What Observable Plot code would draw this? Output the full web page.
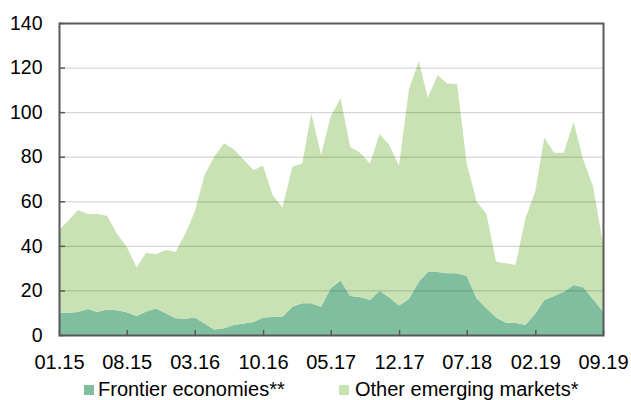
<!DOCTYPE html>
<html>
<head>
<meta charset="utf-8">
<script src="https://cdn.jsdelivr.net/npm/d3@7"></script>
<script src="https://cdn.jsdelivr.net/npm/@observablehq/plot@0.6"></script>
<style>
  html, body { margin: 0; padding: 0; background: #fff; }
  #wrap { width: 631px; font-family: "Liberation Sans", Arial, sans-serif; }
  #legend { position: relative; width: 631px; height: 28px; font-size: 20px; color: #000; }
  .sw { position: absolute; width: 10px; height: 10px; top: 13px; }
  .lt { position: absolute; top: 7px; line-height: 20px; white-space: nowrap; }
</style>
</head>
<body>
<div id="wrap"></div>
<script>
const months = ["2015-01","2015-02","2015-03","2015-04","2015-05","2015-06","2015-07","2015-08","2015-09","2015-10","2015-11","2015-12",
  "2016-01","2016-02","2016-03","2016-04","2016-05","2016-06","2016-07","2016-08","2016-09","2016-10","2016-11","2016-12",
  "2017-01","2017-02","2017-03","2017-04","2017-05","2017-06","2017-07","2017-08","2017-09","2017-10","2017-11","2017-12",
  "2018-01","2018-02","2018-03","2018-04","2018-05","2018-06","2018-07","2018-08","2018-09","2018-10","2018-11","2018-12",
  "2019-01","2019-02","2019-03","2019-04","2019-05","2019-06","2019-07","2019-08","2019-09"];
const seriesNames = ["Frontier economies**", "Other emerging markets*"];
const seriesColors = ["#80bea0", "#c9e2b3"];
const frontier = [10,10,10.3,11.7,10.3,11.4,11.1,10.2,8.5,10.5,11.9,9.8,7.5,7.3,7.8,5.2,2.5,3,4.5,5.2,5.8,7.9,8.1,8.2,12.7,14.3,14.2,12.7,21,24.4,17.5,17.1,15.7,19.9,16.8,13.2,16.2,23.9,28.3,28.3,27.7,27.7,26.5,16.5,12,7.9,5.5,5.5,4.5,9.7,15.7,17.5,19.4,22.4,21.4,16,10.5];
const other = [37.1,41.6,45.8,42.6,44,42,34.5,29.4,21.9,26.4,24.3,28.3,29.7,38.3,47.5,66.6,77.5,83,78.8,73.6,68.2,68.1,54.4,49.1,62.8,62.7,85.3,68.1,77,81.8,67,64.7,61.3,70.3,68.4,62.8,94,99,78.2,88.2,85.2,84.9,50.5,43.5,42.3,25,26.7,25.9,47.8,54.8,72.8,64.3,62.4,73.2,57.4,50.5,30.5];
const xTickMonths = ["2015-01","2015-08","2016-03","2016-10","2017-05","2017-12","2018-07","2019-02","2019-09"];
const yTicks = [0,20,40,60,80,100,120,140];

const toDate = (m) => new Date(m + "-01T00:00:00Z");
const data = months.flatMap((m, i) => [
  {date: toDate(m), series: seriesNames[0], value: frontier[i]},
  {date: toDate(m), series: seriesNames[1], value: other[i]}
]);
const xTicks = xTickMonths.map(toDate);
const fmt = d3.utcFormat("%m.%y");

const chart = Plot.plot({
  width: 631,
  height: 372,
  marginLeft: 59,
  marginRight: 28,
  marginTop: 23,
  marginBottom: 37,
  style: {fontFamily: "'Liberation Sans', Arial, sans-serif", fontSize: "19.5px", color: "#000", background: "#fff"},
  x: {type: "utc", domain: [toDate(months[0]), toDate(months[months.length - 1])]},
  y: {domain: [0, 140]},
  color: {domain: seriesNames, range: seriesColors},
  marks: [
    Plot.areaY(data, {x: "date", y: "value", fill: "series", order: seriesNames}),
    Plot.gridY(yTicks, {stroke: "#000", strokeOpacity: 0.16, strokeWidth: 1.2}),
    Plot.axisY(yTicks, {tickSize: 0, tickPadding: 17, fill: "#000", fontSize: 19.5, label: null}),
    Plot.axisY(yTicks, {tickSize: -6, text: null, stroke: "#595959", strokeWidth: 1.5, label: null}),
    Plot.axisX(xTicks, {tickSize: 0, tickPadding: 19, tickFormat: fmt, fill: "#000", fontSize: 20, label: null}),
    Plot.axisX(xTicks, {tickSize: -5, text: null, stroke: "#595959", strokeWidth: 1.5, label: null}),
    Plot.frame({stroke: "#595959", strokeWidth: 2})
  ]
});

const wrap = document.getElementById("wrap");
wrap.appendChild(chart);
const legend = document.createElement("div");
legend.id = "legend";
const pos = [[84, 98], [339, 355]];
seriesNames.forEach((name, i) => {
  const sw = document.createElement("div");
  sw.className = "sw";
  sw.style.left = pos[i][0] + "px";
  sw.style.background = seriesColors[i];
  const t = document.createElement("div");
  t.className = "lt";
  t.style.left = pos[i][1] + "px";
  t.textContent = name;
  legend.appendChild(sw);
  legend.appendChild(t);
});
wrap.appendChild(legend);
</script>
</body>
</html>
